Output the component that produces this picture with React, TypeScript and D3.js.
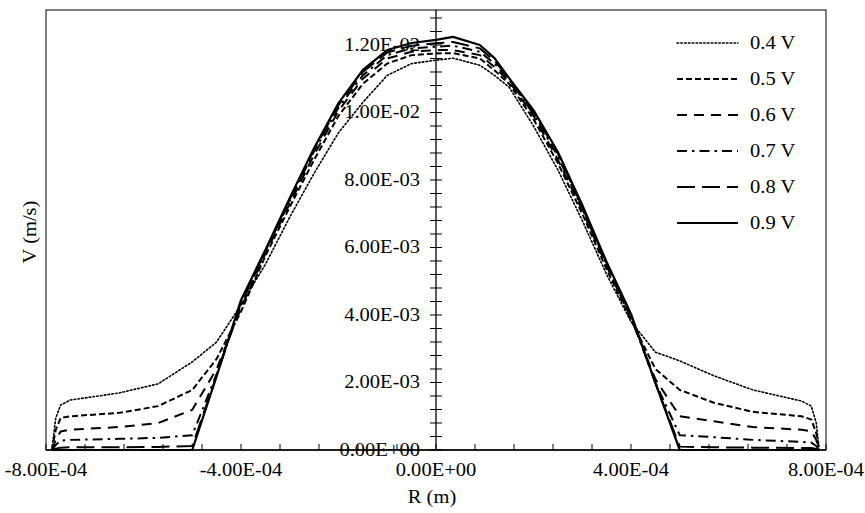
import React from 'react';
import * as d3 from 'd3';

const radius = [
  -7.88e-4, -7.8e-4, -7.7e-4, -7.5e-4, -6.5e-4, -5.7e-4, -5.0e-4, -4.5e-4, -4.0e-4, -3.5e-4,
  -3.0e-4, -2.5e-4, -2.0e-4, -1.5e-4, -1.0e-4, -0.5e-4, 0, 0.35e-4, 0.9e-4, 1.2e-4,
  1.5e-4, 2.0e-4, 2.5e-4, 3.0e-4, 3.5e-4, 4.0e-4, 4.5e-4, 5.0e-4, 5.7e-4, 6.5e-4,
  7.5e-4, 7.7e-4, 7.8e-4, 7.86e-4,
];

const v04 = [
  0, 0.95e-3, 1.33e-3, 1.48e-3, 1.69e-3, 1.96e-3, 2.61e-3, 3.2e-3, 4.3e-3, 5.5e-3,
  6.9e-3, 8.2e-3, 9.4e-3, 10.3e-3, 11.1e-3, 11.45e-3, 11.55e-3, 11.61e-3, 11.4e-3, 11.1e-3,
  10.75e-3, 9.6e-3, 8.3e-3, 6.8e-3, 5.2e-3, 3.8e-3, 2.9e-3, 2.64e-3, 2.2e-3, 1.78e-3,
  1.45e-3, 1.3e-3, 0.8e-3, 0,
];
const v05 = [
  0, 0.6e-3, 0.95e-3, 1.0e-3, 1.1e-3, 1.3e-3, 1.78e-3, 2.7e-3, 4.1e-3, 5.75e-3,
  7.2e-3, 8.6e-3, 9.9e-3, 10.85e-3, 11.45e-3, 11.7e-3, 11.75e-3, 11.76e-3, 11.6e-3, 11.25e-3,
  10.85e-3, 9.8e-3, 8.5e-3, 7.0e-3, 5.35e-3, 3.85e-3, 2.4e-3, 1.78e-3, 1.4e-3, 1.13e-3,
  1.0e-3, 0.9e-3, 0.5e-3, 0,
];
const v06 = [
  0, 0.3e-3, 0.55e-3, 0.6e-3, 0.68e-3, 0.8e-3, 1.19e-3, 2.4e-3, 4.2e-3, 5.82e-3,
  7.3e-3, 8.75e-3, 10.05e-3, 11.0e-3, 11.6e-3, 11.8e-3, 11.85e-3, 11.85e-3, 11.7e-3, 11.35e-3,
  10.92e-3, 9.9e-3, 8.6e-3, 7.1e-3, 5.45e-3, 3.9e-3, 2.1e-3, 1.0e-3, 0.85e-3, 0.68e-3,
  0.6e-3, 0.55e-3, 0.3e-3, 0,
];
const v07 = [
  0, 0.15e-3, 0.28e-3, 0.3e-3, 0.33e-3, 0.36e-3, 0.44e-3, 2.25e-3, 4.3e-3, 5.88e-3,
  7.38e-3, 8.85e-3, 10.15e-3, 11.1e-3, 11.7e-3, 11.9e-3, 11.95e-3, 11.98e-3, 11.8e-3, 11.45e-3,
  10.97e-3, 9.95e-3, 8.7e-3, 7.15e-3, 5.5e-3, 3.95e-3, 2.0e-3, 0.44e-3, 0.38e-3, 0.3e-3,
  0.24e-3, 0.22e-3, 0.12e-3, 0,
];
const v08 = [
  0, 0.04e-3, 0.07e-3, 0.08e-3, 0.08e-3, 0.09e-3, 0.12e-3, 2.2e-3, 4.38e-3, 5.9e-3,
  7.43e-3, 8.9e-3, 10.22e-3, 11.2e-3, 11.78e-3, 11.98e-3, 12.05e-3, 12.09e-3, 11.9e-3, 11.53e-3,
  11.0e-3, 10.0e-3, 8.78e-3, 7.2e-3, 5.53e-3, 4.0e-3, 1.98e-3, 0.1e-3, 0.08e-3, 0.07e-3,
  0.06e-3, 0.06e-3, 0.03e-3, 0,
];
const v09 = [
  0, 0, 0, 0, 0, 0, 0, 2.19e-3, 4.44e-3, 5.93e-3,
  7.47e-3, 8.95e-3, 10.28e-3, 11.26e-3, 11.85e-3, 12.06e-3, 12.15e-3, 12.24e-3, 12.0e-3, 11.61e-3,
  11.02e-3, 10.07e-3, 8.83e-3, 7.26e-3, 5.57e-3, 4.03e-3, 1.99e-3, 0, 0, 0,
  0, 0, 0, 0,
];

const seriesNames = ['0.4 V', '0.5 V', '0.6 V', '0.7 V', '0.8 V', '0.9 V'];
const seriesValues = [v04, v05, v06, v07, v08, v09];

const xTickValues = [-8e-4, -4e-4, 0, 4e-4, 8e-4];
const xTickLabels = ['-8.00E-04', '-4.00E-04', '0.00E+00', '4.00E-04', '8.00E-04'];
const yTickValues = [0, 2e-3, 4e-3, 6e-3, 8e-3, 10e-3, 12e-3];
const yTickLabels = ['0.00E+00', '2.00E-03', '4.00E-03', '6.00E-03', '8.00E-03', '1.00E-02', '1.20E-02'];

const xAxisTitle = 'R (m)';
const yAxisTitle = 'V (m/s)';

const styles = [
  { dash: '1.6,2.2', width: 1.6 },
  { dash: '6,3', width: 2 },
  { dash: '10,7', width: 2 },
  { dash: '10,5,2.5,5', width: 2 },
  { dash: '18,7', width: 2 },
  { dash: null, width: 2.2 },
];

const W = 865;
const H = 513;
const FONT = "'Liberation Serif', 'Times New Roman', serif";
const FS = 18;
const SX = 1.14;

export default function App() {
  const x = d3.scaleLinear().domain([-8e-4, 8e-4]).range([46, 826]);
  const y = d3.scaleLinear().domain([0, 0.013037]).range([450, 10]);

  const line = d3
    .line<[number, number]>()
    .x((d) => x(d[0]))
    .y((d) => y(d[1]));

  const xMinor = d3.range(-8e-4, 8e-4 + 1e-9, 0.8e-4);
  const yMinor = d3.range(0, 0.01301, 0.4e-3);
  const x0 = x(0);

  return (
    <div style={{ position: 'fixed', left: 0, top: 0 }}>
      <svg width={W} height={H} style={{ display: 'block', background: '#fff' }}>
        <rect x={0} y={0} width={W} height={H} fill="#fff" />
        {/* frame */}
        <rect x={46} y={10} width={826 - 46} height={440} fill="none" stroke="#3a3a3a" strokeWidth={1.3} />

        {/* series */}
        {seriesValues.map((vals, i) => {
          const pts = radius.map((r, k) => [r, vals[k]] as [number, number]);
          return (
            <path
              key={i}
              d={line(pts) || ''}
              fill="none"
              stroke="#000"
              strokeWidth={styles[i].width}
              strokeDasharray={styles[i].dash || undefined}
              strokeLinejoin="round"
              strokeLinecap={i === 0 ? 'round' : 'butt'}
            />
          );
        })}

        {/* x axis */}
        <line x1={46} x2={826} y1={y(0)} y2={y(0)} stroke="#000" strokeWidth={1.3} />
        {xMinor.map((t, i) => (
          <line key={'xt' + i} x1={x(t)} x2={x(t)} y1={y(0)} y2={y(0) - 6} stroke="#000" strokeWidth={1} />
        ))}
        {/* y axis at center */}
        <line x1={x0} x2={x0} y1={10} y2={450} stroke="#000" strokeWidth={1.3} />
        {yMinor.map((t, i) => (
          <line key={'yt' + i} x1={x0 - 6} x2={x0 + 6} y1={y(t)} y2={y(t)} stroke="#000" strokeWidth={1} />
        ))}

        {/* y tick labels */}
        {yTickValues.map((t, i) => (
          <text
            key={'yl' + i}
            transform={`translate(${x0 - 16},${y(t) + 6}) scale(${SX},1)`}
            textAnchor="end"
            fontFamily={FONT}
            fontSize={FS}
            fill="#000"
          >
            {yTickLabels[i]}
          </text>
        ))}

        {/* x tick labels */}
        {xTickValues.map((t, i) => (
          <text
            key={'xl' + i}
            transform={`translate(${x(t)},${476}) scale(${SX},1)`}
            textAnchor="middle"
            fontFamily={FONT}
            fontSize={FS}
            fill="#000"
          >
            {xTickLabels[i]}
          </text>
        ))}

        {/* axis titles */}
        <text
          transform={`translate(${x0 - 4},503) scale(${SX},1)`}
          textAnchor="middle"
          fontFamily={FONT}
          fontSize={FS}
        >
          {xAxisTitle}
        </text>
        <text
          transform={`translate(36,232) rotate(-90) scale(${SX},1)`}
          textAnchor="middle"
          fontFamily={FONT}
          fontSize={FS}
        >
          {yAxisTitle}
        </text>

        {/* legend */}
        {seriesNames.map((name, i) => {
          const ly = 43 + i * 36;
          return (
            <g key={'lg' + i}>
              <line
                x1={677}
                x2={738}
                y1={ly}
                y2={ly}
                stroke="#000"
                strokeWidth={styles[i].width}
                strokeDasharray={styles[i].dash || undefined}
                strokeLinecap={i === 0 ? 'round' : 'butt'}
              />
              <text
                transform={`translate(750,${ly + 6}) scale(${SX},1)`}
                fontFamily={FONT}
                fontSize={FS}
                fill="#000"
              >
                {name}
              </text>
            </g>
          );
        })}
      </svg>
    </div>
  );
}
